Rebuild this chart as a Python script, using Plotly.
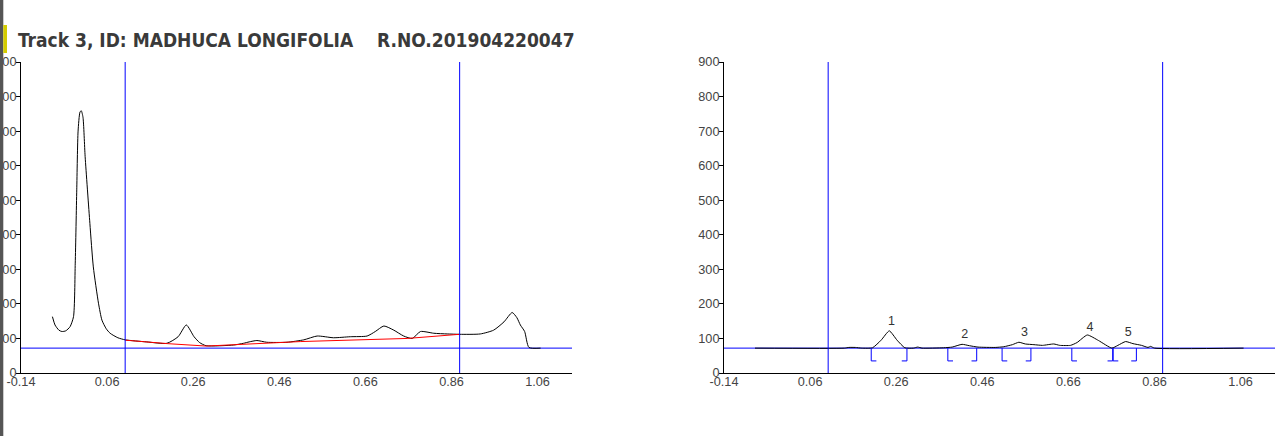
import plotly.graph_objects as go

W, H = 1281, 436

# ---------------- data ----------------
title_text = "Track 3, ID: MADHUCA LONGIFOLIA    R.NO.201904220047"

x_tick_vals = [-0.14, 0.06, 0.26, 0.46, 0.66, 0.86, 1.06]
x_tick_text = ["-0.14", "0.06", "0.26", "0.46", "0.66", "0.86", "1.06"]
y_tick_vals = [0, 100, 200, 300, 400, 500, 600, 700, 800, 900]

# raw densitogram (left)
rf_left = [-0.067, -0.061, -0.052, -0.045, -0.036, -0.026, -0.018, -0.014, -0.0105, -0.0074,
           -0.003, 0.0, 0.004, 0.009, 0.020, 0.028, 0.040, 0.048, 0.058, 0.067, 0.085,
           0.102, 0.152, 0.199, 0.225, 0.244, 0.262, 0.275, 0.290, 0.354, 0.377, 0.390,
           0.408, 0.431, 0.478, 0.517, 0.548, 0.586, 0.625, 0.664, 0.683, 0.703, 0.726,
           0.749, 0.769, 0.788, 0.819, 0.850, 0.879, 0.927, 0.958, 0.982, 1.001, 1.012,
           1.020, 1.030, 1.040, 1.067]
au_left = [163, 139, 124, 120, 122, 134, 163, 318, 530, 700,
           755, 759, 740, 626, 433, 307, 202, 153, 128, 115, 102,
           96, 90, 86, 105, 139, 105, 88, 79, 81, 86, 90,
           94, 89, 89, 96, 107, 102, 105, 107, 120, 136, 124,
           107, 100, 120, 115, 113, 112, 113, 124, 148, 175, 160,
           139, 120, 74, 72]

# baseline (red, left)
rf_base = [0.102, 0.200, 0.290, 0.510, 0.757, 0.879]
au_base = [95, 85, 78, 91, 100, 112]

# baseline-corrected densitogram (right)
rf_right = [-0.068, 0.140, 0.150, 0.165, 0.180, 0.205, 0.225, 0.244, 0.262, 0.280,
            0.300, 0.310, 0.320, 0.370, 0.390, 0.413, 0.430, 0.450, 0.490, 0.510,
            0.530, 0.545, 0.560, 0.580, 0.600, 0.626, 0.640, 0.665, 0.680, 0.704,
            0.730, 0.761, 0.775, 0.793, 0.810, 0.830, 0.845, 0.851, 0.860, 1.067]
au_right = [72, 72, 74, 74, 72, 73, 95, 122, 95, 73,
            72, 75, 72, 73, 75, 83, 79, 75, 74, 76,
            82, 89, 84, 82, 80, 84, 80, 80, 88, 110,
            94, 72, 80, 91, 85, 80, 74, 77, 72, 72]

# peaks (right)
peak_labels = ["1", "2", "3", "4", "5"]
peak_rf = [0.249, 0.419, 0.558, 0.710, 0.799]
peak_label_au = [148, 110, 115, 132, 117]
peak_start = [0.202, 0.380, 0.506, 0.668, 0.764]
peak_end = [0.285, 0.447, 0.573, 0.763, 0.818]

front_rf = 0.102
end_rf = 0.879
base_level = 72
bracket_low = 35
bracket_w = 0.012

# ---------------- figure ----------------
fig = go.Figure()

# left: raw curve + baseline
fig.add_trace(go.Scatter(x=[-0.14, 1.14], y=[base_level, base_level], mode="lines",
                         line=dict(color="#0000ff", width=1), xaxis="x", yaxis="y",
                         hoverinfo="skip"))
fig.add_trace(go.Scatter(x=rf_left, y=au_left, mode="lines",
                         line=dict(color="#000000", width=1, shape="spline", smoothing=0.6),
                         xaxis="x", yaxis="y"))
fig.add_trace(go.Scatter(x=rf_base, y=au_base, mode="lines",
                         line=dict(color="#ff0000", width=1), xaxis="x", yaxis="y"))

# right: corrected curve
fig.add_trace(go.Scatter(x=[-0.14, 1.14], y=[base_level, base_level], mode="lines",
                         line=dict(color="#0000ff", width=1), xaxis="x2", yaxis="y2",
                         hoverinfo="skip"))
fig.add_trace(go.Scatter(x=rf_right, y=au_right, mode="lines",
                         line=dict(color="#000000", width=1, shape="spline", smoothing=0.5),
                         xaxis="x2", yaxis="y2"))

# integration brackets
bx, by = [], []
for s, e in zip(peak_start, peak_end):
    bx += [s, s, s + bracket_w, None, e - bracket_w, e, e, None]
    by += [base_level, bracket_low, bracket_low, None, bracket_low, bracket_low, base_level, None]
fig.add_trace(go.Scatter(x=bx, y=by, mode="lines", line=dict(color="#0000ff", width=1),
                         xaxis="x2", yaxis="y2"))

# peak labels
fig.add_trace(go.Scatter(x=peak_rf, y=peak_label_au, mode="text", text=peak_labels,
                         textfont=dict(family="Liberation Sans, Arial", size=12.5, color="#333333"),
                         xaxis="x2", yaxis="y2"))

# front / end lines
shapes = []
for xr, yr in (("x", "y"), ("x2", "y2")):
    for v in (front_rf, end_rf):
        shapes.append(dict(type="line", xref=xr, yref=yr, x0=v, x1=v, y0=0, y1=900,
                           line=dict(color="#0000ff", width=1)))

# left decorative strips
shapes.append(dict(type="rect", xref="paper", yref="paper", x0=0, x1=3.3 / W, y0=0, y1=1,
                   fillcolor="#555555", line=dict(width=0), layer="above"))
shapes.append(dict(type="rect", xref="paper", yref="paper", x0=3.3 / W, x1=7 / W,
                   y0=(H - 53) / H, y1=(H - 25) / H,
                   fillcolor="#d4cc00", line=dict(width=0), layer="above"))

y0p = (H - 373) / H
y1p = (H - 62) / H

tick_font = dict(family="Liberation Sans, Arial", size=12.7, color="#444444")
x_axis_common = dict(showline=True, linecolor="#000000", linewidth=1, showgrid=False,
                     zeroline=False, ticks="", automargin=False, tickfont=tick_font,
                     ticklabelstandoff=-3)
y_axis_common = dict(showline=True, linecolor="#000000", linewidth=1, showgrid=False,
                     zeroline=False, ticks="outside", ticklen=4, tickcolor="#000000",
                     automargin=False, tickfont=tick_font, ticklabelstandoff=-3)

fig.update_layout(
    width=W, height=H,
    margin=dict(l=0, r=0, t=0, b=0, pad=0, autoexpand=False),
    paper_bgcolor="white", plot_bgcolor="white",
    showlegend=False,
    shapes=shapes,
    xaxis=dict(domain=[21 / W, 572 / W], range=[-0.14, 1.14], tickvals=x_tick_vals,
               ticktext=x_tick_text, anchor="y", **x_axis_common),
    yaxis=dict(domain=[y0p, y1p], range=[0, 900], tickvals=y_tick_vals, anchor="x",
               **y_axis_common),
    xaxis2=dict(domain=[724 / W, 1275 / W], range=[-0.14, 1.14], tickvals=x_tick_vals,
                ticktext=x_tick_text, anchor="y2", **x_axis_common),
    yaxis2=dict(domain=[y0p, y1p], range=[0, 900], tickvals=y_tick_vals, anchor="x2",
                **y_axis_common),
    annotations=[dict(text="<b>" + title_text + "</b>", xref="paper", yref="paper",
                      x=16 / W, y=(H - 40) / H, xanchor="left", yanchor="middle",
                      showarrow=False,
                      font=dict(family="DejaVu Sans Condensed, Liberation Sans",
                                size=19, color="#3a3a3a"))],
)

fig.write_html("out.html", config={"displayModeBar": False},
               post_script="document.body.style.margin='0px';document.body.style.overflow='hidden';")
